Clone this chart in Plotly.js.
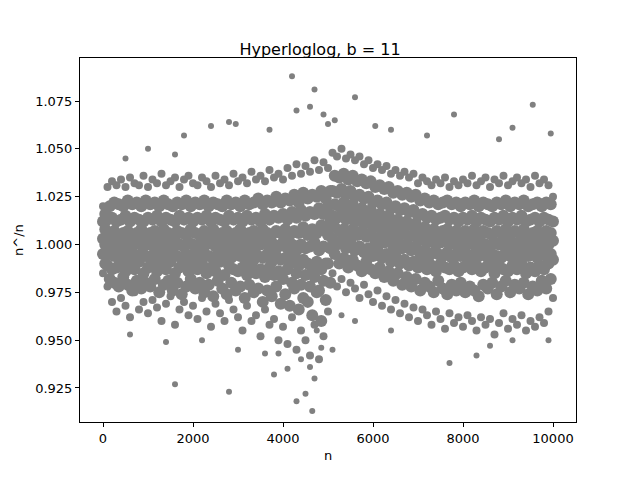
<!DOCTYPE html>
<html>
<head>
<script src="https://cdn.plot.ly/plotly-3.0.1.min.js"></script>
<style>body{margin:0;background:#fff}</style>
</head>
<body>
<div id="chart_div" style="width:640px;height:480px"></div>
<script>
// n positions of the estimate columns (every 100)
var nCols = [];
for (var i = 0; i <= 100; i++) nCols.push(i * 100);
var nColsHalf = nCols.map(function (v) { return v + 50; });

// ratio n^/n, one row per "layer" of the cloud
var rowLow = [0.985,0.978,0.970,0.965,0.972,0.968,0.962,0.975,0.966,0.970,0.964,0.971,0.967,0.960,0.969,0.973,0.958,0.966,0.970,0.963,0.968,0.961,0.972,0.965,0.957,0.969,0.964,0.960,0.971,0.966,0.962,0.955,0.968,0.960,0.963,0.952,0.966,0.958,0.961,0.950,0.957,0.948,0.962,0.945,0.955,0.950,0.942,0.958,0.940,0.952,0.965,0.985,0.978,0.982,0.975,0.980,0.977,0.972,0.979,0.974,0.970,0.976,0.968,0.973,0.966,0.971,0.964,0.969,0.962,0.967,0.960,0.966,0.963,0.958,0.965,0.961,0.956,0.964,0.959,0.962,0.957,0.963,0.960,0.955,0.962,0.958,0.961,0.953,0.959,0.964,0.956,0.961,0.958,0.963,0.955,0.960,0.957,0.962,0.959,0.965,0.972];
var row2 = [0.990,0.982,0.980,0.978,0.983,0.979,0.976,0.981,0.977,0.980,0.978,0.982,0.975,0.979,0.981,0.976,0.980,0.974,0.978,0.982,0.977,0.980,0.975,0.979,0.973,0.981,0.977,0.974,0.980,0.976,0.978,0.972,0.979,0.975,0.977,0.970,0.976,0.973,0.978,0.969,0.974,0.968,0.977,0.966,0.972,0.970,0.963,0.975,0.960,0.971,0.980,0.995,0.990,0.993,0.988,0.992,0.989,0.986,0.991,0.987,0.985,0.988,0.983,0.986,0.981,0.985,0.979,0.983,0.978,0.982,0.976,0.980,0.978,0.975,0.981,0.977,0.974,0.979,0.976,0.980,0.975,0.978,0.976,0.973,0.979,0.977,0.980,0.974,0.978,0.981,0.975,0.979,0.977,0.980,0.974,0.978,0.976,0.981,0.977,0.982,0.985];
var row3 = [0.995,0.989,0.987,0.988,0.990,0.986,0.989,0.987,0.991,0.985,0.988,0.990,0.986,0.989,0.987,0.991,0.985,0.988,0.990,0.986,0.989,0.987,0.990,0.985,0.988,0.986,0.991,0.984,0.989,0.987,0.986,0.988,0.984,0.989,0.985,0.987,0.983,0.988,0.984,0.986,0.982,0.987,0.980,0.985,0.979,0.984,0.978,0.983,0.976,0.981,0.990,1.003,1.000,1.002,0.998,1.001,0.997,0.999,0.996,0.998,0.994,0.997,0.993,0.995,0.991,0.994,0.990,0.992,0.989,0.991,0.988,0.990,0.987,0.989,0.986,0.990,0.988,0.987,0.989,0.986,0.988,0.990,0.987,0.989,0.986,0.988,0.990,0.985,0.989,0.987,0.986,0.989,0.987,0.990,0.985,0.988,0.986,0.989,0.987,0.990,0.992];
var row4 = [1.000,0.995,0.994,0.993,0.995,0.994,0.996,0.993,0.995,0.994,0.993,0.996,0.994,0.995,0.993,0.996,0.994,0.993,0.995,0.994,0.996,0.993,0.995,0.994,0.993,0.995,0.994,0.996,0.993,0.995,0.994,0.993,0.995,0.992,0.994,0.993,0.995,0.991,0.994,0.992,0.993,0.990,0.994,0.989,0.992,0.990,0.988,0.991,0.987,0.990,0.998,1.009,1.007,1.008,1.006,1.008,1.005,1.007,1.004,1.006,1.002,1.004,1.001,1.003,0.999,1.002,0.998,1.000,0.997,0.999,0.995,0.997,0.994,0.996,0.995,0.994,0.996,0.993,0.995,0.994,0.996,0.993,0.995,0.994,0.996,0.993,0.995,0.994,0.993,0.996,0.994,0.995,0.993,0.996,0.994,0.995,0.993,0.996,0.994,0.995,0.997];
var row5 = [1.003,1.000,1.001,0.999,1.000,1.001,0.999,1.000,1.002,0.999,1.000,1.001,0.999,1.000,1.001,0.999,1.002,1.000,0.999,1.001,1.000,0.999,1.001,1.000,1.002,0.999,1.000,1.001,0.999,1.000,1.001,0.999,1.000,1.002,0.999,1.000,1.001,0.998,1.000,0.999,1.001,0.998,1.000,0.997,1.000,0.998,0.999,1.001,0.997,0.999,1.005,1.015,1.014,1.016,1.013,1.015,1.012,1.013,1.011,1.012,1.009,1.010,1.008,1.009,1.006,1.008,1.005,1.006,1.004,1.005,1.002,1.003,1.001,1.002,1.000,1.001,1.002,1.000,1.001,0.999,1.001,1.000,1.002,0.999,1.001,1.000,0.999,1.001,1.000,1.002,0.999,1.001,1.000,1.002,0.999,1.000,1.001,0.999,1.001,1.000,1.002];
var row6 = [1.008,1.006,1.007,1.005,1.006,1.007,1.005,1.006,1.008,1.005,1.006,1.007,1.005,1.008,1.006,1.005,1.007,1.006,1.005,1.008,1.006,1.005,1.007,1.006,1.008,1.005,1.006,1.007,1.005,1.006,1.008,1.005,1.006,1.007,1.005,1.008,1.006,1.005,1.007,1.006,1.008,1.005,1.007,1.006,1.009,1.005,1.008,1.006,1.010,1.007,1.012,1.021,1.020,1.022,1.019,1.021,1.018,1.019,1.017,1.018,1.015,1.016,1.014,1.015,1.012,1.013,1.011,1.012,1.010,1.011,1.008,1.009,1.007,1.008,1.006,1.007,1.008,1.006,1.007,1.005,1.007,1.006,1.008,1.005,1.007,1.006,1.005,1.007,1.006,1.008,1.005,1.007,1.006,1.008,1.005,1.006,1.007,1.005,1.007,1.006,1.008];
var row7 = [1.012,1.013,1.014,1.012,1.013,1.015,1.012,1.014,1.013,1.012,1.014,1.013,1.015,1.012,1.014,1.013,1.012,1.015,1.013,1.014,1.012,1.014,1.013,1.015,1.012,1.014,1.013,1.012,1.015,1.013,1.014,1.012,1.015,1.013,1.014,1.012,1.016,1.013,1.015,1.014,1.016,1.013,1.017,1.014,1.018,1.015,1.017,1.016,1.019,1.016,1.020,1.028,1.027,1.029,1.026,1.028,1.025,1.026,1.024,1.025,1.022,1.023,1.021,1.022,1.019,1.020,1.018,1.019,1.017,1.018,1.015,1.016,1.014,1.015,1.013,1.014,1.015,1.013,1.014,1.012,1.014,1.013,1.015,1.012,1.014,1.013,1.012,1.014,1.013,1.015,1.012,1.014,1.013,1.015,1.012,1.013,1.014,1.012,1.014,1.013,1.012];
var row8 = [1.016,1.020,1.022,1.021,1.020,1.023,1.021,1.022,1.020,1.023,1.021,1.022,1.020,1.023,1.021,1.020,1.022,1.021,1.023,1.020,1.022,1.021,1.023,1.020,1.022,1.021,1.020,1.023,1.021,1.022,1.020,1.023,1.021,1.022,1.024,1.021,1.023,1.022,1.025,1.022,1.024,1.023,1.026,1.022,1.027,1.024,1.026,1.025,1.028,1.024,1.028,1.036,1.035,1.037,1.034,1.036,1.033,1.034,1.032,1.033,1.030,1.031,1.029,1.030,1.027,1.028,1.026,1.027,1.025,1.026,1.023,1.024,1.022,1.023,1.021,1.022,1.023,1.021,1.022,1.020,1.022,1.021,1.023,1.020,1.022,1.021,1.020,1.022,1.021,1.023,1.020,1.022,1.021,1.023,1.020,1.021,1.022,1.020,1.022,1.021,1.018];
var rowHigh = [1.020,1.030,1.033,1.031,1.034,1.030,1.035,1.032,1.031,1.036,1.030,1.034,1.032,1.037,1.031,1.033,1.035,1.030,1.034,1.036,1.032,1.031,1.035,1.033,1.030,1.036,1.032,1.034,1.031,1.037,1.033,1.035,1.032,1.038,1.034,1.036,1.033,1.039,1.035,1.037,1.034,1.040,1.036,1.042,1.037,1.041,1.038,1.044,1.039,1.043,1.040,1.048,1.046,1.050,1.045,1.047,1.044,1.046,1.042,1.044,1.040,1.042,1.039,1.041,1.037,1.039,1.036,1.038,1.035,1.037,1.032,1.035,1.033,1.031,1.034,1.032,1.035,1.030,1.033,1.031,1.034,1.032,1.036,1.031,1.033,1.035,1.030,1.034,1.032,1.036,1.031,1.033,1.035,1.032,1.034,1.030,1.036,1.032,1.034,1.031,1.025];

// scattered outliers
var outN = [4200,4700,5600,4600,9550,7800,4300,2800,2950,2400,1800,1600,3700,5150,6050,6400,9100,9950,8800,7200,1000,500,4900,5000,4650,4500,4300,2800,1600,4700,4600,3800,4100,7700,3600,3900,4400,5100,2200,1400,8300,8600,9100,9900,6400,5600,5300,600,3000,4850,4750];
var outY = [1.088,1.081,1.077,1.072,1.073,1.068,1.070,1.064,1.063,1.062,1.057,1.047,1.060,1.065,1.062,1.060,1.061,1.058,1.055,1.057,1.050,1.045,1.068,1.063,0.913,0.922,0.918,0.923,0.927,0.930,0.936,0.932,0.935,0.938,0.943,0.943,0.940,0.945,0.950,0.949,0.942,0.947,0.950,0.950,0.955,0.960,0.963,0.953,0.945,0.946,0.955];

var xTicks = [0,2000,4000,6000,8000,10000];

// collects rows into one x/y pair
function collect(rows) {
	var x = [], y = [];
	for (var r = 0; r < rows.length; r++) {
		var ys = rows[r][0], xs = rows[r][1];
		for (var j = 0; j < ys.length; j++) {
			if (xs[j] > 10000) continue;
			x.push(xs[j]);
			y.push(ys[j]);
		}
	}
	return [x, y];
}

var edge = collect([[rowLow,nCols],[rowHigh,nCols]]);
var core = collect([[row2,nColsHalf],[row3,nCols],[row4,nColsHalf],[row5,nCols],[row6,nColsHalf],[row7,nCols],[row8,nColsHalf]]);

var grey = '#808080';
var data = [
	{x: edge[0], y: edge[1], mode: 'markers', type: 'scatter', marker: {color: grey, size: 8}},
	{x: core[0], y: core[1], mode: 'markers', type: 'scatter', marker: {color: grey, size: 12}},
	{x: outN, y: outY, mode: 'markers', type: 'scatter', marker: {color: grey, size: 6}}
];

var axisStyle = {
	showgrid: false, zeroline: false,
	showline: true, mirror: true, linecolor: '#000', linewidth: 1,
	ticks: 'outside', ticklen: 4, tickcolor: '#000',
	tickfont: {size: 13, color: '#000'}
};

var layout = {
	width: 640, height: 480,
	margin: {l: 80, r: 64, t: 58, b: 58},
	paper_bgcolor: '#fff', plot_bgcolor: '#fff',
	font: {family: 'DejaVu Sans', color: '#000'},
	showlegend: false,
	title: {text: 'Hyperloglog, b = 11', font: {size: 16}, x: 0.5, xanchor: 'center', y: 0.885, yanchor: 'bottom'},
	xaxis: Object.assign({}, axisStyle, {
		range: [-511, 10511], tickvals: xTicks, ticktext: xTicks.map(String),
		title: {text: 'n', font: {size: 13}, standoff: 6}
	}),
	yaxis: Object.assign({}, axisStyle, {
		range: [0.9072, 1.0975], dtick: 0.025, tick0: 0.9, tickformat: '.3f',
		title: {text: 'n^/n', font: {size: 13}, standoff: 8}
	})
};

Plotly.newPlot('chart_div', data, layout, {staticPlot: true});
</script>
</body>
</html>
